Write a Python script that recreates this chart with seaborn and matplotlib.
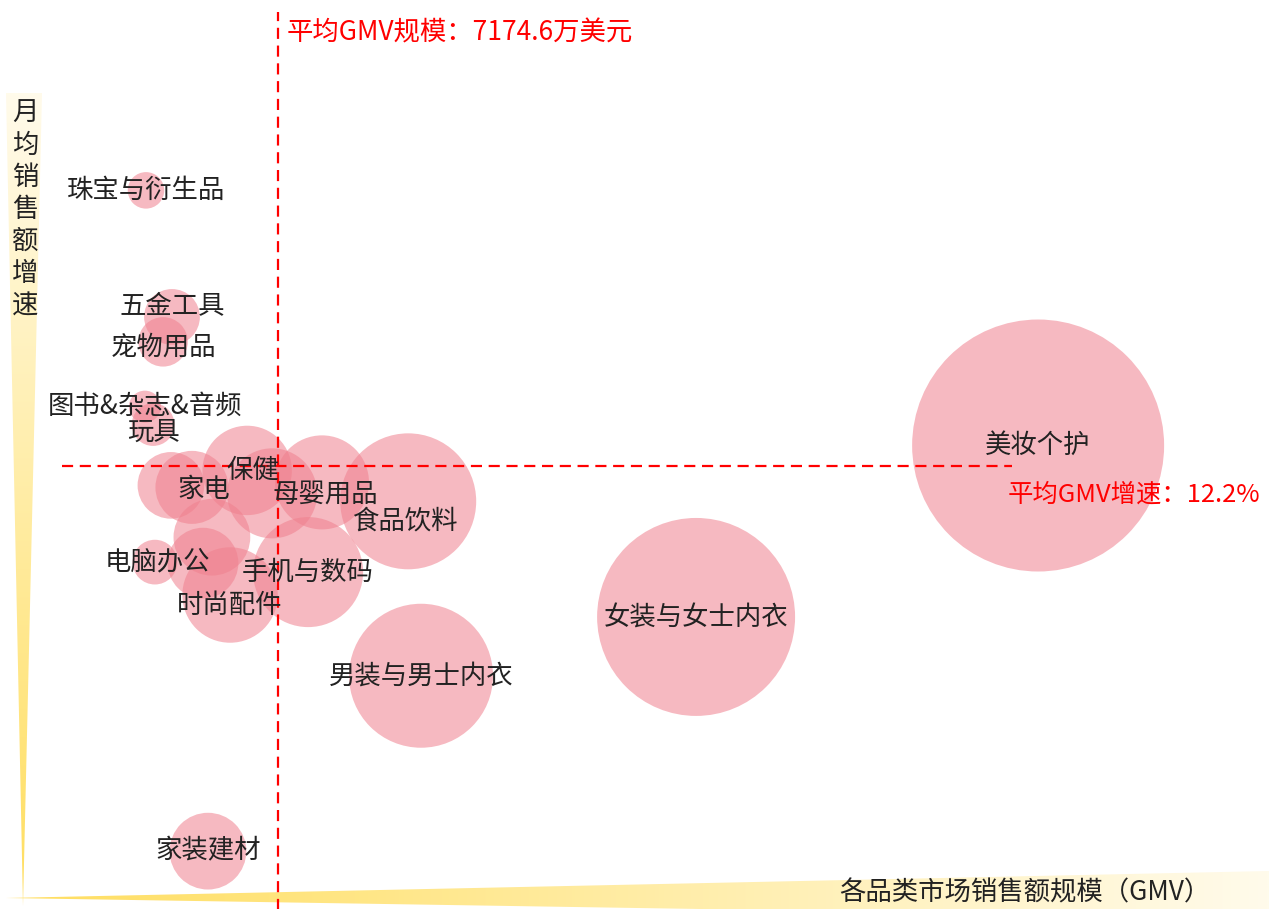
import numpy as np
import pandas as pd
import matplotlib
matplotlib.use("Agg")
import matplotlib.pyplot as plt
from matplotlib.patches import Polygon
import seaborn as sns

# 品类数据：GMV（万美元）、月均销售额增速（%）、气泡体量
categories = ["珠宝与衍生品", "五金工具", "宠物用品", "图书&杂志&音频", "玩具",
              "家电", "保健", "母婴用品", "食品饮料", "电脑办公", "手机与数码",
              "时尚配件", "男装与男士内衣", "女装与女士内衣", "美妆个护", "家装建材",
              "", "", "", ""]
gmv = [3480, 4210, 3960, 3450, 3680,
       4770, 6320, 8420, 10840, 3730, 8030,
       5840, 11200, 18920, 28520, 5220,
       4180, 5330, 5080, 7020]
growth = [39.9, 27.2, 24.7, 18.2, 16.4,
          10.1, 11.8, 10.6, 8.7, 2.6, 1.6,
          -0.7, -8.8, -2.9, 14.3, -26.4,
          10.3, 5.1, 2.5, 9.5]
volume = [600, 1400, 1100, 460, 820,
          2400, 3600, 3980, 8320, 900, 5450,
          4100, 9330, 17640, 28580, 2650,
          2000, 2650, 2250, 3650]

avg_gmv = 7174.6
avg_growth = 12.2

# 标签微调（像素）
label_shift = {"五金工具": (0, 10), "宠物用品": (0, -5), "玩具": (0, -8),
               "家电": (12, -2), "保健": (6, 0), "母婴用品": (3, -12),
               "食品饮料": (-3, -20), "电脑办公": (3, 0), "时尚配件": (0, -10)}

df = pd.DataFrame({"name": categories, "gmv": gmv, "growth": growth, "volume": volume})

sns.set_style("white")
plt.rcParams["font.family"] = ["Noto Sans CJK SC", "DejaVu Sans"]
plt.rcParams["font.weight"] = "light"

W, H = 1269, 909
fig = plt.figure(figsize=(W / 100, H / 100), dpi=100)

# 背景装饰：渐变三角形坐标轴
deco = fig.add_axes([0, 0, 1, 1], zorder=0)
deco.set_xlim(0, W)
deco.set_ylim(H, 0)
deco.set_axis_off()


def wedge(pts, vertical):
    g = np.linspace(0, 1, 256)
    c0 = np.array([255, 222, 95]) / 255
    c1 = np.array([255, 251, 235]) / 255
    if vertical:
        img = (c1[None, :] * (1 - g[:, None]) + c0[None, :] * g[:, None])[:, None, :]
    else:
        img = (c0[None, :] * (1 - g[:, None]) + c1[None, :] * g[:, None])[None, :, :]
    xs = [p[0] for p in pts]
    ys = [p[1] for p in pts]
    im = deco.imshow(img, extent=(min(xs), max(xs), max(ys), min(ys)),
                     aspect="auto", interpolation="bilinear")
    poly = Polygon(pts, closed=True, facecolor="none", edgecolor="none")
    deco.add_patch(poly)
    im.set_clip_path(poly)


wedge([(6, 93), (42, 93), (23, 906)], vertical=True)
wedge([(6, 898), (1269, 871), (1269, 918)], vertical=False)

ax = fig.add_axes([22 / W, 12 / H, 1247 / W, 897 / H], zorder=1)
ax.patch.set_alpha(0)
sns.scatterplot(data=df, x="gmv", y="growth", size="volume",
                sizes=(0, 32920), size_norm=(0, max(volume)),
                color="#F0808E", alpha=0.55, linewidth=0, legend=False, ax=ax)
ax.set_xlim(0, 35000)
ax.set_ylim(-31, 59)
ax.set_axis_off()

# 平均线
ax.axvline(avg_gmv, ymin=-0.02, ymax=0.987, color="red", lw=1.6,
           dashes=(5, 3), clip_on=False, zorder=3)
ax.axhline(avg_growth, xmin=0.032, xmax=0.794, color="red", lw=1.6,
           dashes=(5, 3), zorder=3)

for name, x, y in zip(categories, gmv, growth):
    if not name:
        continue
    dx, dy = label_shift.get(name, (0, 0))
    ax.annotate(name, (x, y), xytext=(dx, dy), textcoords="offset pixels",
                ha="center", va="center", fontsize=19, color="#222222", zorder=4)

ax.annotate(f"平均GMV规模：{avg_gmv}万美元", xy=(avg_gmv, 0.963),
            xycoords=("data", "axes fraction"), xytext=(9, 0),
            textcoords="offset pixels", ha="left", va="center",
            fontsize=19, color="red")
ax.annotate(f"平均GMV增速：{avg_growth}%", xy=(0.792, avg_growth),
            xycoords=("axes fraction", "data"), xytext=(-2, -28),
            textcoords="offset pixels", ha="left", va="center",
            fontsize=18.3, color="red")

fig.text(25 / W, 1 - 100 / H, "\n".join("月均销售额增速"), ha="center", va="top",
         fontsize=19, color="#222222", linespacing=1.24, zorder=5)
fig.text(1210 / W, 1 - 893 / H, "各品类市场销售额规模（GMV）", ha="right",
         va="center", fontsize=19, color="#222222", zorder=5)

fig.savefig("out.png", dpi=100)
